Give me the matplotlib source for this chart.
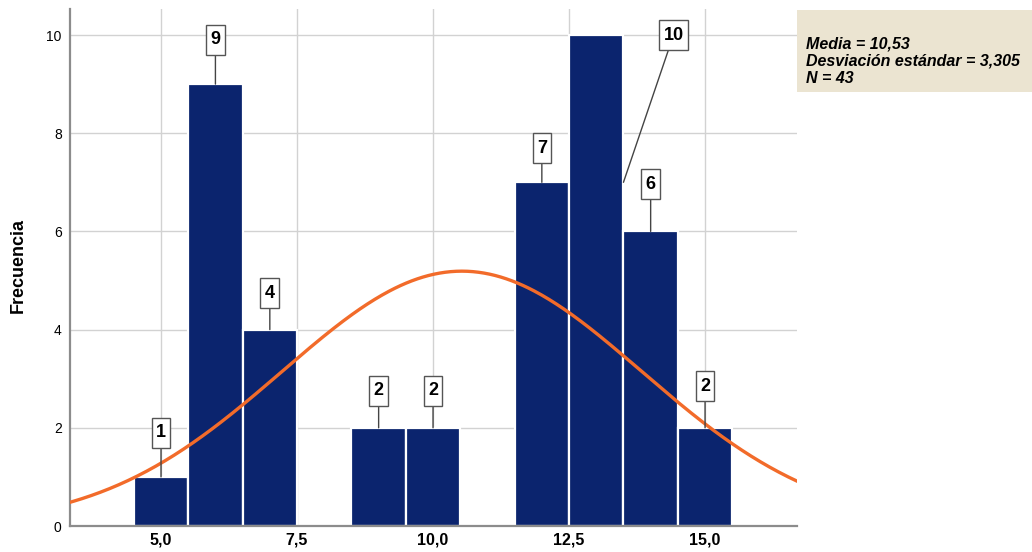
import numpy as np
import matplotlib
matplotlib.use("Agg")
import matplotlib.pyplot as plt
from matplotlib.path import Path
from matplotlib.patches import Rectangle

plt.rcParams['font.family'] = ['Liberation Sans', 'DejaVu Sans']

# histogram data (bin centres, counts)
bins = [5, 6, 7, 9, 10, 12, 13, 14, 15]
counts = [1, 9, 4, 2, 2, 7, 10, 6, 2]
media = 10.53
desv = 3.305
n = 43

xticks = [5.0, 7.5, 10.0, 12.5, 15.0]
xtick_labels = ["5,0", "7,5", "10,0", "12,5", "15,0"]
yticks = [0, 2, 4, 6, 8, 10]

# where each count label box sits
label_xy = [(5, 1.90), (6, 9.90), (7, 4.74), (9, 2.75), (10, 2.75),
            (12, 7.69), (14.42, 10.0), (14, 6.96), (15, 2.85)]
label_anchor = [(5, 1), (6, 9), (7, 4), (9, 2), (10, 2),
                (12, 7), (13.5, 7), (14, 6), (15, 2)]

bar_color = '#0b246e'
curve_color = '#f26b2a'
grid_color = '#d2d2d2'
spine_color = '#8c8c8c'


def tall_box(x0, y0, width, height, mutation_size):
    # narrow, tall rectangle round the count labels
    px = 0.24 * mutation_size
    py = 0.36 * mutation_size
    x1, y1 = x0 + width + px, y0 + height + py
    x0, y0 = x0 - px, y0 - py
    return Path([(x0, y0), (x1, y0), (x1, y1), (x0, y1), (x0, y0)], closed=True)


fig = plt.figure(figsize=(10.32, 5.52), dpi=100)
ax = fig.add_axes([70 / 1032, 1 - 526 / 552, (797 - 70) / 1032, (526 - 9) / 552])

ax.bar(bins, counts, width=1.0, color=bar_color, edgecolor='white', linewidth=1.6, zorder=2)

xs = np.linspace(3.2, 16.8, 400)
ys = n * 1.0 * np.exp(-0.5 * ((xs - media) / desv) ** 2) / (desv * np.sqrt(2 * np.pi))
ax.plot(xs, ys, color=curve_color, lw=2.4, zorder=3, solid_capstyle='butt')

for c, (tx, ty), (ax_x, ax_y) in zip(counts, label_xy, label_anchor):
    ax.annotate(str(c), xy=(ax_x, ax_y), xytext=(tx, ty), ha='center', va='center',
                fontsize=13, fontweight='bold', color='black', zorder=5,
                bbox=dict(boxstyle=tall_box, fc='white', ec='#555555', lw=1.0),
                arrowprops=dict(arrowstyle='-', color='#444444', lw=1.0,
                                shrinkA=0, shrinkB=0))

ax.set_xlim(3.327, 16.69)
ax.set_ylim(0, 10.53)
ax.set_xticks(xticks)
ax.set_xticklabels(xtick_labels, fontsize=11.5, fontweight='bold')
ax.set_yticks(yticks)
ax.set_yticklabels([str(v) for v in yticks], fontsize=10)
ax.tick_params(axis='both', length=0, colors='black')
ax.tick_params(axis='x', pad=5)
ax.tick_params(axis='y', pad=6)

ax.grid(True, color=grid_color, lw=1.0, zorder=0)
ax.set_axisbelow(True)
for s in ['top', 'right']:
    ax.spines[s].set_visible(False)
for s in ['left', 'bottom']:
    ax.spines[s].set_color(spine_color)
    ax.spines[s].set_linewidth(1.6)

fig.text(18 / 1032, 1 - 266 / 552, "Frecuencia", rotation=90, ha='center', va='center',
         fontsize=13, fontweight='bold')

# stats panel on the right
fig.patches.append(Rectangle((797 / 1032, 1 - 92 / 552), (1032 - 797) / 1032, 82 / 552,
                             transform=fig.transFigure, fc='#ebe4d1', ec='none'))
fig.text(806 / 1032, 1 - 61 / 552,
         "Media = 10,53\nDesviación estándar = 3,305\nN = 43",
         ha='left', va='center', fontsize=11.5, fontweight='bold', fontstyle='italic',
         linespacing=1.2)

fig.savefig("out.png", dpi=100)
